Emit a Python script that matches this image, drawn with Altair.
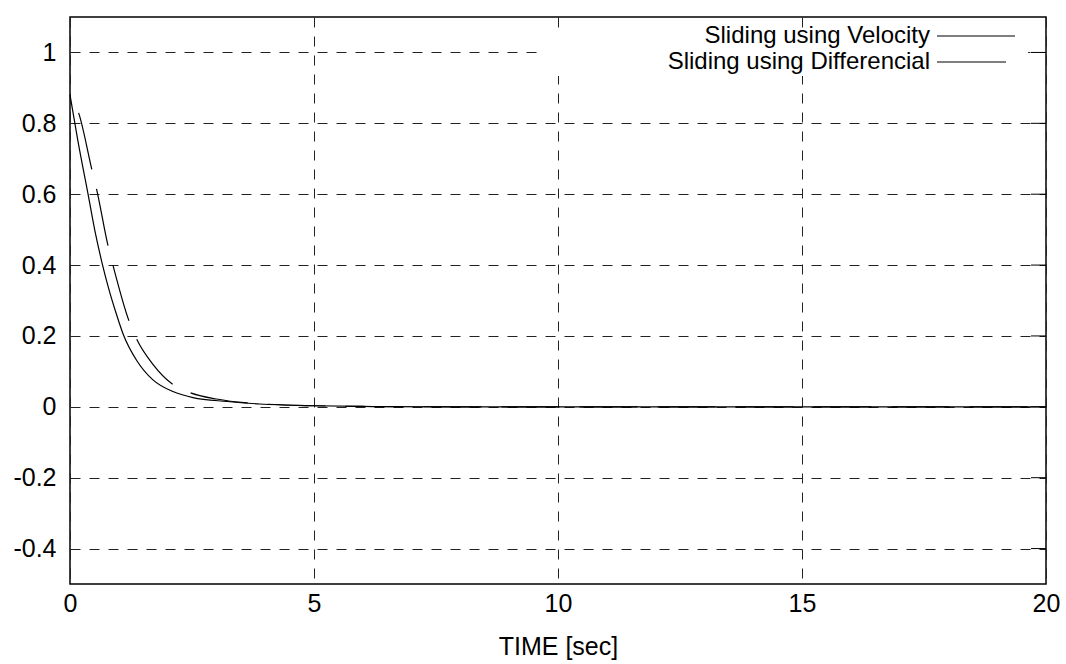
import altair as alt
import pandas as pd

# Sliding surface response over time for the two controllers
time_velocity = [0, 0.16, 0.37, 0.52, 0.65, 0.80, 0.95, 1.09, 1.37, 1.70, 2.11, 2.52,
                 3.22, 3.89, 4.98, 6.0, 8.0, 20.0]
sliding_velocity = [0.88, 0.752, 0.60, 0.49, 0.41, 0.33, 0.262, 0.205, 0.13, 0.076,
                    0.043, 0.026, 0.015, 0.008, 0.003, 0.001, 0.0, 0.0]

time_differencial = [0, 0.18, 0.45, 0.55, 0.78, 0.88, 1.21, 1.37, 1.70, 2.09, 2.46, 3.0,
                     3.63, 5.0, 6.0, 8.0, 20.0]
sliding_differencial = [0.88, 0.828, 0.668, 0.611, 0.454, 0.40, 0.242, 0.19, 0.12, 0.065,
                        0.04, 0.022, 0.011, 0.003, 0.001, 0.0, 0.0]

series_names = ["Sliding using Velocity", "Sliding using Differencial"]
x_ticks = [0, 5, 10, 15, 20]
y_ticks = [-0.4, -0.2, 0, 0.2, 0.4, 0.6, 0.8, 1]

W, H = 976, 567
FONT = "Liberation Sans"
FS = 25
KEY_FS = 24

vel = pd.DataFrame({"t": time_velocity, "s": sliding_velocity})
dif = pd.DataFrame({"t": time_differencial, "s": sliding_differencial})
ticks_df = pd.DataFrame({"v": y_ticks})
one = pd.DataFrame({"k": [0]})

x_scale = alt.Scale(domain=[0, 20], nice=False, zero=False)
y_scale = alt.Scale(domain=[-0.5, 1.1], nice=False, zero=False)

grid_style = dict(grid=True, gridColor="#222222", gridDash=[10, 9], gridWidth=1,
                  ticks=False, tickSize=0, domain=False,
                  labelFont=FONT, labelFontSize=FS, labelColor="black")

x_axis = alt.Axis(values=x_ticks, title="TIME [sec]", labelPadding=7, titlePadding=18,
                  titleFont=FONT, titleFontSize=FS, titleFontWeight="normal",
                  titleColor="black", labelFlush=False, **grid_style)
y_axis = alt.Axis(values=y_ticks, title=None, labelPadding=14,
                  labelExpr="datum.value < 0 ? '-' + format(-datum.value, '~g') : format(datum.value, '~g')",
                  **grid_style)

X = alt.X("t:Q", scale=x_scale, axis=x_axis)
Y = alt.Y("s:Q", scale=y_scale, axis=y_axis)

line_vel = alt.Chart(vel).mark_line(
    color="black", strokeWidth=1.2, interpolate="monotone"
).encode(x=X, y=Y)

line_dif = alt.Chart(dif).mark_line(
    color="black", strokeWidth=1.2, interpolate="monotone",
    strokeDash=[58, 20], strokeDashOffset=58
).encode(x=X, y=Y)

# mirrored inward ticks on the right edge
right_ticks = alt.Chart(ticks_df).mark_rule(color="black", strokeWidth=1).encode(
    y=alt.Y("v:Q", scale=y_scale, axis=y_axis),
    x=alt.value(W - 15), x2=alt.value(W)
)

# opaque key box
key_box = alt.Chart(one).mark_rect(fill="white", stroke=None).encode(
    x=alt.value(475), x2=alt.value(958), y=alt.value(11), y2=alt.value(59)
)

key_text_1 = alt.Chart(one).mark_text(
    align="right", baseline="middle", font=FONT, fontSize=KEY_FS, color="black"
).encode(x=alt.value(860), y=alt.value(19), text=alt.value(series_names[0]))
key_text_2 = alt.Chart(one).mark_text(
    align="right", baseline="middle", font=FONT, fontSize=KEY_FS, color="black"
).encode(x=alt.value(860), y=alt.value(45), text=alt.value(series_names[1]))

key_line_1 = alt.Chart(one).mark_rule(color="black", strokeWidth=1.2).encode(
    x=alt.value(867), x2=alt.value(945), y=alt.value(19)
)
key_line_2 = alt.Chart(one).mark_rule(color="black", strokeWidth=1.2).encode(
    x=alt.value(867), x2=alt.value(936), y=alt.value(45)
)

chart = alt.layer(
    line_vel, line_dif, right_ticks, key_box,
    key_text_1, key_text_2, key_line_1, key_line_2
).properties(
    width=W, height=H,
    padding={"left": 70, "top": 17, "right": 20, "bottom": 80},
    autosize=alt.AutoSizeParams(type="none"),
    background="white"
).configure_view(
    stroke="black", strokeWidth=1.5
)

chart.save("out.html", embed_options={"renderer": "svg", "actions": False})
